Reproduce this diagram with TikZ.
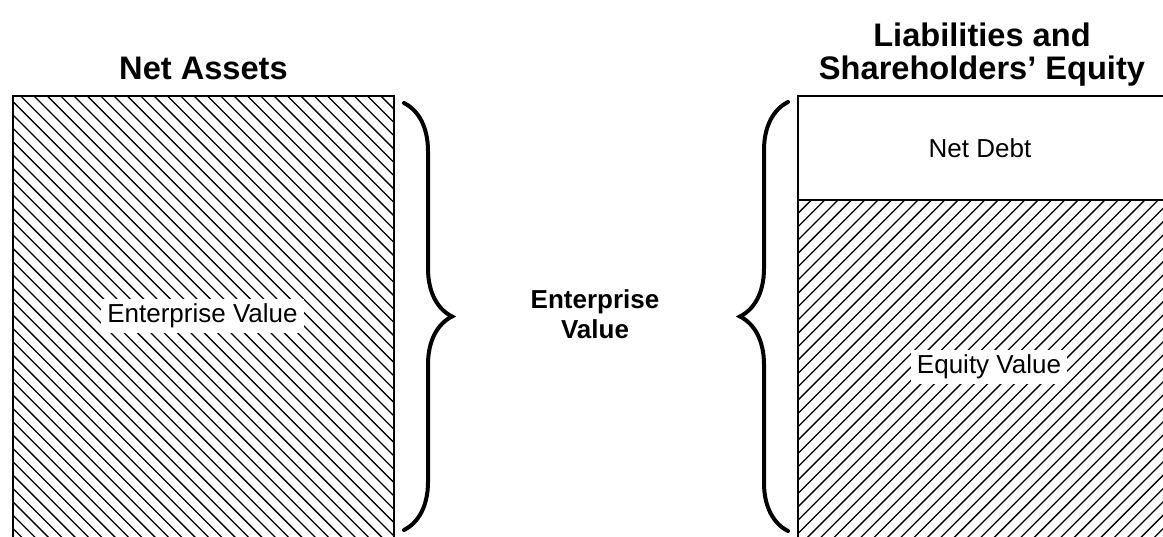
\documentclass[tikz,border=0pt]{standalone}
\usepackage{fontspec}
\setmainfont{Liberation Sans}
\usetikzlibrary{decorations.pathreplacing}

\tikzset{
  valuebox/.style={draw=black, line width=0.7pt, inner sep=0pt},
  hatchline/.style={line width=0.65pt},
  hatch down/.style={path picture={
      \foreach \k in {-40,...,35}
        \draw[hatchline] ([xshift=3.85pt+\k*6.67pt]path picture bounding box.north west) -- ++(600,600);}},
  hatch up/.style={path picture={
      \foreach \k in {0,...,60}
        \draw[hatchline] ([xshift=\k*6.67pt]path picture bounding box.north west) -- ++(-600,600);}},
  boxlabel/.style={font=\fontsize{13}{15}\selectfont, inner xsep=3pt, inner ysep=2.5pt},
  whitelabel/.style={boxlabel, fill=white},
  heading/.style={font=\fontsize{16.3}{16.5}\selectfont\bfseries, align=center, inner sep=0pt},
  bigbrace/.style={decorate, decoration={brace, amplitude=24pt}, line width=2pt, line cap=round}
}

\begin{document}
\begin{tikzpicture}[x=0.5pt, y=-0.5pt]
  \useasboundingbox (0,0) rectangle (1163,536);

  % left side
  \node[heading] (assetsTitle) at (203.5,68) {Net Assets};
  \node[valuebox, hatch down, minimum width=190.5pt, minimum height=222pt] (assets) at (203.5,318) {};
  \node[whitelabel] (evLeft) at (202.5,316) {Enterprise Value};

  % right side
  \node[heading] (liabTitle) at (982,55) {Liabilities and\\Shareholders’ Equity};
  \node[valuebox, minimum width=186pt, minimum height=52pt] (debt) at (984,148) {};
  \node[boxlabel] (debtLabel) at (980,148) {Net Debt};
  \node[valuebox, hatch up, minimum width=186pt, minimum height=170pt] (equity) at (984,370) {};
  \node[whitelabel] (equityLabel) at (989,367) {Equity Value};

  % middle
  \node[heading, font=\fontsize{13}{15}\selectfont\bfseries] (evMid) at (595,314) {Enterprise\\Value};

  % braces
  \coordinate (lbTop) at (404,103);
  \coordinate (lbBot) at (404,530);
  \coordinate (rbTop) at (788,102);
  \coordinate (rbBot) at (788,531);
  \draw[bigbrace] (lbTop) -- (lbBot);
  \draw[bigbrace] (rbBot) -- (rbTop);
\end{tikzpicture}
\end{document}
